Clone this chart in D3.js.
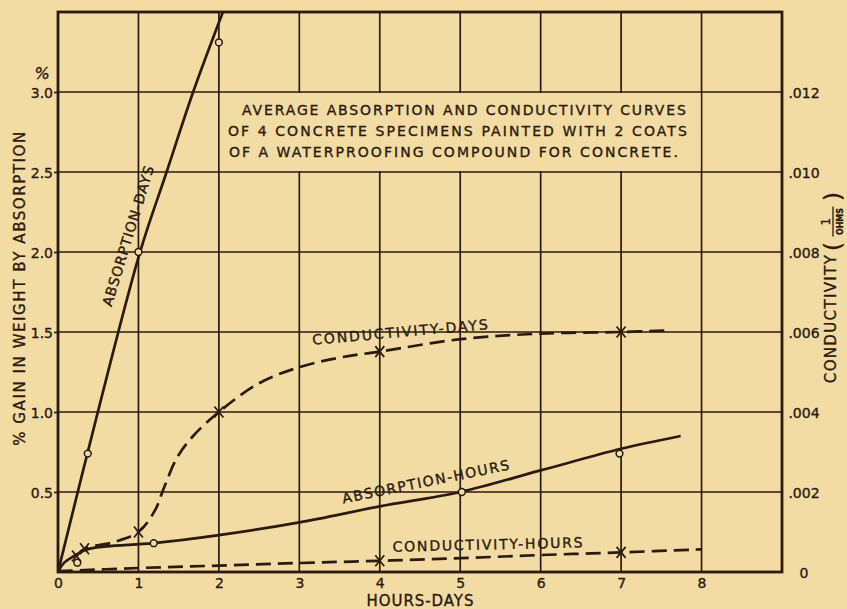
<!DOCTYPE html>
<html>
<head>
<meta charset="utf-8">
<script src="https://cdn.jsdelivr.net/npm/d3@7/dist/d3.min.js"></script>
<style>
  html, body { margin: 0; padding: 0; background: #f2dca4; }
  svg { display: block; }
  svg text { stroke: #2a1a0f; stroke-width: 0.35px; }
</style>
</head>
<body>
<svg id="chart" width="847" height="609"></svg>
<script>
// Axis ticks
const xTicks = [0, 1, 2, 3, 4, 5, 6, 7, 8];
const absorptionTicks = [0.5, 1.0, 1.5, 2.0, 2.5, 3.0];
const conductivityTicks = [0, 0.002, 0.004, 0.006, 0.008, 0.010, 0.012];

// Absorption against days (% gain in weight): traced curve and measured points
const absDaysX = [0, 0.48, 1.02, 1.35, 1.68, 2.05];
const absDaysY = [0, 0.97, 2.0, 2.5, 3.0, 3.5];
const absDaysPtX = [0.37, 1.0, 2.0];
const absDaysPtY = [0.74, 2.0, 3.31];

// Absorption against hours (% gain in weight)
const absHoursX = [0, 0.08, 0.2, 0.35, 0.6, 1.19, 2, 3, 4, 5, 6, 7, 7.74];
const absHoursY = [0, 0.06, 0.1, 0.14, 0.16, 0.18, 0.23, 0.31, 0.41, 0.50, 0.635, 0.77, 0.85];
const absHoursPtX = [0.24, 1.19, 5.02, 6.98];
const absHoursPtY = [0.058, 0.18, 0.50, 0.74];

// Conductivity against days (1/ohms)
const condDaysX = [0.23, 0.33, 0.7, 1.0, 1.2, 1.32, 1.48, 1.68, 2, 2.5, 3, 3.5, 4, 5, 6, 7, 7.61];
const condDaysY = [0.0004, 0.00058, 0.00075, 0.001, 0.00152, 0.00212, 0.00286, 0.0034, 0.004,
                   0.00472, 0.00512, 0.00536, 0.00551, 0.00582, 0.00596, 0.006, 0.00604];
const condDaysPtX = [0.23, 0.33, 1, 2, 4, 7];
const condDaysPtY = [0.0004, 0.00058, 0.001, 0.004, 0.00551, 0.006];

// Conductivity against hours (1/ohms)
const condHoursX = [0, 1, 2, 3, 4, 5, 6, 7, 8];
const condHoursY = [0.00002, 0.0001, 0.00016, 0.000225, 0.00028, 0.000345, 0.000424, 0.00049, 0.000568];
const condHoursPtX = [4, 7];
const condHoursPtY = [0.00028, 0.00049];

const titleLines = [
  "AVERAGE ABSORPTION AND CONDUCTIVITY CURVES",
  "OF 4 CONCRETE SPECIMENS PAINTED WITH 2 COATS",
  "OF A WATERPROOFING COMPOUND FOR CONCRETE."
];

const INK = "#2a1a0f";
const PAPER = "#f2dca4";
const FONT = "'DejaVu Sans', 'Liberation Sans', sans-serif";

const svg = d3.select("#chart");
svg.append("rect").attr("width", 847).attr("height", 609).attr("fill", PAPER);

const xs = d3.scaleLinear().domain([0, 9]).range([58, 782]);
const yL = d3.scaleLinear().domain([0, 3.5]).range([572, 12]);
const yR = d3.scaleLinear().domain([0, 0.014]).range([572, 12]);

// grid
const grid = svg.append("g").attr("stroke", INK).attr("stroke-width", 1.7);
grid.selectAll("line.v").data(d3.range(1, 9)).join("line")
  .attr("x1", d => xs(d)).attr("x2", d => xs(d))
  .attr("y1", yL(0)).attr("y2", yL(3.5));
grid.selectAll("line.h").data(absorptionTicks).join("line")
  .attr("x1", xs(0)).attr("x2", xs(9))
  .attr("y1", d => yL(d)).attr("y2", d => yL(d));

// title panel blanks out the grid behind the heading
svg.append("rect")
  .attr("x", xs(2) + 1).attr("y", yL(3.0) + 1)
  .attr("width", xs(8) - xs(2) - 2).attr("height", yL(2.5) - yL(3.0) - 2)
  .attr("fill", PAPER);

// frame
svg.append("rect")
  .attr("x", xs(0)).attr("y", yL(3.5))
  .attr("width", xs(9) - xs(0)).attr("height", yL(0) - yL(3.5))
  .attr("fill", "none").attr("stroke", INK).attr("stroke-width", 2.8);

// axes
function styleAxis(g) {
  g.select(".domain").remove();
  g.selectAll("line").attr("stroke", INK).attr("stroke-width", 1.7);
  g.selectAll("text").attr("fill", INK).attr("font-family", FONT).attr("font-size", 14);
}
svg.append("g").attr("transform", `translate(${xs(0)},0)`)
  .call(d3.axisLeft(yL).tickValues(absorptionTicks).tickFormat(d3.format(".1f")).tickSize(4).tickPadding(1))
  .call(styleAxis)
  .selectAll("text").attr("dy", "0.42em");

svg.append("g").attr("transform", `translate(0,${yL(0)})`)
  .call(d3.axisBottom(xs).tickValues(xTicks).tickFormat(d3.format("d")).tickSize(0).tickPadding(6))
  .call(styleAxis);

const gR = svg.append("g").attr("transform", `translate(${xs(9)},0)`)
  .call(d3.axisRight(yR).tickValues(conductivityTicks)
    .tickFormat(d => d === 0 ? "0" : d3.format(".3f")(d).replace(/^0/, ""))
    .tickSize(0).tickPadding(22))
  .call(styleAxis);
gR.selectAll("text").attr("text-anchor", "middle").attr("dy", "0.38em");

// percent sign above the left scale
svg.append("text")
  .attr("x", xs(0) - 16).attr("y", yL(3.0) - 13)
  .attr("text-anchor", "middle")
  .attr("font-family", FONT).attr("font-size", 16).attr("font-style", "italic")
  .attr("fill", INK).text("%");

// axis titles
svg.append("text")
  .attr("transform", `translate(20,${yL(1.77)}) rotate(-90)`)
  .attr("text-anchor", "middle").attr("dy", "0.36em")
  .attr("font-family", FONT).attr("font-size", 15).attr("fill", INK)
  .attr("textLength", 314).attr("lengthAdjust", "spacing")
  .text("% GAIN IN WEIGHT BY ABSORPTION");

svg.append("text")
  .attr("x", xs(4.5)).attr("y", 606)
  .attr("text-anchor", "middle")
  .attr("font-family", FONT).attr("font-size", 15).attr("fill", INK)
  .attr("textLength", 107).attr("lengthAdjust", "spacing")
  .text("HOURS-DAYS");

const gRT = svg.append("g").attr("fill", INK).attr("font-family", FONT);
gRT.append("text")
  .attr("transform", `translate(831,${yR(0.00632)}) rotate(-90)`)
  .attr("text-anchor", "middle").attr("dy", "0.36em")
  .attr("font-size", 15)
  .attr("textLength", 128).attr("lengthAdjust", "spacing")
  .text("CONDUCTIVITY");
const frac = gRT.append("g").attr("transform", `translate(833,${yR(0.00876)}) rotate(-90)`);
frac.append("text").attr("x", -25).attr("y", 0).attr("dy", "0.34em")
  .attr("text-anchor", "middle").attr("font-size", 23).text("(");
frac.append("text").attr("x", 25).attr("y", 0).attr("dy", "0.34em")
  .attr("text-anchor", "middle").attr("font-size", 23).text(")");
frac.append("text").attr("x", 0).attr("y", -3)
  .attr("text-anchor", "middle").attr("font-size", 12).text("1");
frac.append("line").attr("x1", -15).attr("x2", 15).attr("y1", 0).attr("y2", 0)
  .attr("stroke", INK).attr("stroke-width", 1.3);
frac.append("text").attr("x", 0).attr("y", 10)
  .attr("text-anchor", "middle").attr("font-size", 9.5).attr("font-weight", "bold")
  .attr("textLength", 27).attr("lengthAdjust", "spacingAndGlyphs").text("OHMS");

// title
const titleOffsets = [23, 9, 10];
const titleWidths = [444, 459, 449];
svg.append("g").selectAll("text").data(titleLines).join("text")
  .attr("x", (d, i) => xs(2) + titleOffsets[i])
  .attr("y", (d, i) => yL(3.0) + 23 + i * 21)
  .attr("font-family", FONT).attr("font-size", 14).attr("fill", INK)
  .attr("textLength", (d, i) => titleWidths[i]).attr("lengthAdjust", "spacing")
  .text(d => d);

// curves
svg.append("clipPath").attr("id", "plot-clip")
  .append("rect").attr("x", xs(0)).attr("y", yL(3.5))
  .attr("width", xs(9) - xs(0)).attr("height", yL(0) - yL(3.5));

const plot = svg.append("g").attr("clip-path", "url(#plot-clip)");
function curve(xv, yv, yScale, dashed) {
  const pts = xv.map((x, i) => [xs(x), yScale(yv[i])]);
  plot.append("path")
    .attr("d", d3.line().curve(d3.curveCatmullRom.alpha(0.5))(pts))
    .attr("fill", "none").attr("stroke", INK).attr("stroke-width", 2.7)
    .attr("stroke-linecap", "butt")
    .attr("stroke-dasharray", dashed ? "15,7" : null);
}
curve(absDaysX, absDaysY, yL, false);
curve(absHoursX, absHoursY, yL, false);
curve(condDaysX, condDaysY, yR, true);
curve(condHoursX, condHoursY, yR, true);

// measured points
function circles(xv, yv, yScale) {
  plot.append("g").selectAll("circle").data(xv).join("circle")
    .attr("cx", d => xs(d)).attr("cy", (d, i) => yScale(yv[i]))
    .attr("r", 3.4).attr("fill", PAPER).attr("stroke", INK).attr("stroke-width", 1.5);
}
function crosses(xv, yv, yScale) {
  plot.append("g").selectAll("path").data(xv).join("path")
    .attr("transform", (d, i) => `translate(${xs(d)},${yScale(yv[i])})`)
    .attr("d", "M-4.5,-5.5L4.5,5.5M4.5,-5.5L-4.5,5.5")
    .attr("fill", "none").attr("stroke", INK).attr("stroke-width", 1.7);
}
circles(absDaysPtX, absDaysPtY, yL);
circles(absHoursPtX, absHoursPtY, yL);
crosses(condDaysPtX, condDaysPtY, yR);
crosses(condHoursPtX, condHoursPtY, yR);

// curve names, laid along each curve
function curveLabel(text, x, y, angle, len) {
  svg.append("text")
    .attr("transform", `translate(${xs(x)},${yL(y)}) rotate(${angle})`)
    .attr("text-anchor", "middle").attr("dy", "0.36em")
    .attr("font-family", FONT).attr("font-size", 14).attr("fill", INK)
    .attr("textLength", len).attr("lengthAdjust", "spacing")
    .text(text);
}
curveLabel("ABSORPTION-DAYS", 0.87, 2.10, -73, 146);
curveLabel("CONDUCTIVITY-DAYS", 4.25, 1.50, -5.1, 176);
curveLabel("ABSORPTION-HOURS", 4.57, 0.565, -11.5, 170);
curveLabel("CONDUCTIVITY-HOURS", 5.34, 0.172, -1.3, 190);
</script>
</body>
</html>
